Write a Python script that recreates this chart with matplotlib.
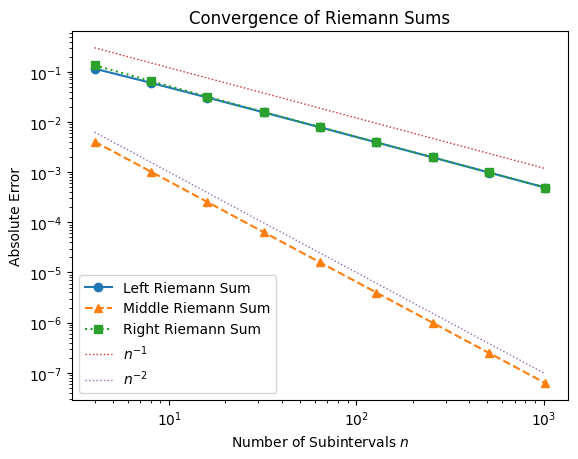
#!/usr/bin/env python3
#
# Convergence of left / middle / right Riemann sums on a log-log plot

import matplotlib
matplotlib.use("Agg")
import matplotlib.pyplot as plt

# number of subintervals
n_values = [4, 8, 16, 32, 64, 128, 256, 512, 1024]

# absolute errors
left_err = [0.115, 0.0601, 0.0306, 0.0155, 0.00780, 0.00391, 0.00196, 0.000979, 0.000490]
middle_err = [0.00406, 0.00102, 0.000254, 6.35e-5, 1.59e-5, 3.97e-6, 9.92e-7, 2.48e-7, 6.2e-8]
right_err = [0.135, 0.0651, 0.0319, 0.0158, 0.00789, 0.00394, 0.00197, 0.000985, 0.000492]

# reference slopes
ref_n1 = [0.3, 0.15, 0.075, 0.0375, 0.01875, 0.009375, 0.0046875, 0.00234375, 0.001171875]
ref_n2 = [6.25e-3, 1.5625e-3, 3.90625e-4, 9.765625e-5, 2.44140625e-5,
          6.1035156e-6, 1.5258789e-6, 3.8146973e-7, 9.5367432e-8]


fig = plt.figure(figsize=(5.78, 4.60), dpi=100)
ax = fig.add_axes([72/578, 59/460, 496/578, 369/460])

ax.loglog(n_values, left_err, 'o-', color='C0', label='Left Riemann Sum')
ax.loglog(n_values, middle_err, '^--', color='C1', label='Middle Riemann Sum')
ax.loglog(n_values, right_err, 's:', color='C2', label='Right Riemann Sum')
ax.loglog(n_values, ref_n1, ':', color='C3', linewidth=1, label='$n^{-1}$')
ax.loglog(n_values, ref_n2, ':', color='C4', linewidth=1, label='$n^{-2}$')

ax.set_xlabel('Number of Subintervals $n$')
ax.set_ylabel('Absolute Error')
ax.set_title('Convergence of Riemann Sums')
ax.legend(loc='lower left')

fig.savefig('out.png', dpi=100)
